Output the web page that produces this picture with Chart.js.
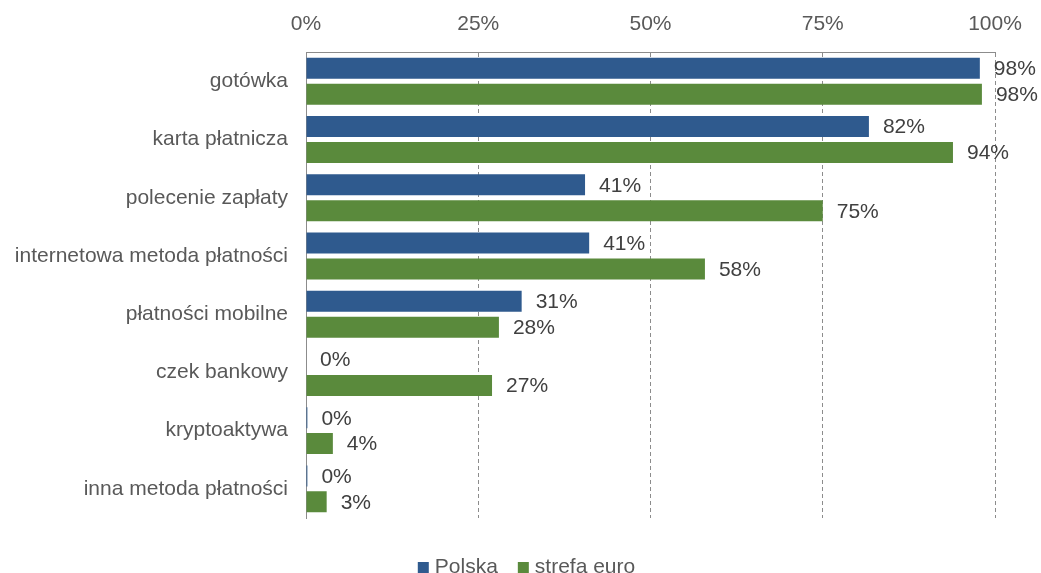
<!DOCTYPE html>
<html>
<head>
<meta charset="utf-8">
<script src="https://cdn.jsdelivr.net/npm/chart.js@4"></script>
<style>
  html, body { margin: 0; padding: 0; background: #fff; overflow: hidden; }
  #wrap { width: 1041px; height: 576px; position: relative; margin-top: -3px; }
</style>
</head>
<body>
<div id="wrap"><canvas id="payChart"></canvas></div>
<script>
// metody płatności - odsetek akceptacji
const categories = [
  "gotówka",
  "karta płatnicza",
  "polecenie zapłaty",
  "internetowa metoda płatności",
  "płatności mobilne",
  "czek bankowy",
  "kryptoaktywa",
  "inna metoda płatności"
];
const polska = [97.8, 81.7, 40.5, 41.1, 31.3, 0, 0.2, 0.2];
const strefaEuro = [98.1, 93.9, 75.0, 57.9, 28.0, 27.0, 3.9, 3.0];
const xTicks = [0, 25, 50, 75, 100];

const txt = "#595959";
const fam = "'Liberation Sans', Arial, sans-serif";

// etykiety wartości na końcu słupków
const valueLabels = {
  id: "valueLabels",
  afterDatasetsDraw(chart) {
    const ctx = chart.ctx;
    ctx.save();
    ctx.font = "21px " + fam;
    ctx.fillStyle = "#404040";
    ctx.textAlign = "left";
    ctx.textBaseline = "middle";
    chart.data.datasets.forEach((ds, i) => {
      chart.getDatasetMeta(i).data.forEach((bar, j) => {
        ctx.fillText(Math.round(ds.data[j]) + "%", bar.x + 14, bar.y + 1);
      });
    });
    ctx.restore();
  }
};

// legenda na dole, ciasniej niz wbudowana
const bottomLegend = {
  id: "bottomLegend",
  afterDraw(chart) {
    const ctx = chart.ctx;
    const box = 11, gap = 6, itemGap = 20;
    ctx.save();
    ctx.font = "21px " + fam;
    ctx.textBaseline = "middle";
    ctx.textAlign = "left";
    const items = chart.data.datasets.map(ds => ({
      label: ds.label, color: ds.backgroundColor, w: ctx.measureText(ds.label).width
    }));
    let total = items.reduce((s, it) => s + box + gap + it.w, 0) + itemGap * (items.length - 1);
    let x = chart.width / 2 + 6 - total / 2;
    const y = 570;
    items.forEach(it => {
      ctx.fillStyle = it.color;
      ctx.fillRect(x, y - 5, box, box);
      ctx.fillStyle = txt;
      ctx.fillText(it.label, x + box + gap, y);
      x += box + gap + it.w + itemGap;
    });
    ctx.restore();
  }
};

new Chart(document.getElementById("payChart"), {
  type: "bar",
  data: {
    labels: categories,
    datasets: [
      { label: "Polska", data: polska, backgroundColor: "#2f5a8e", borderWidth: 0 },
      { label: "strefa euro", data: strefaEuro, backgroundColor: "#5a8a3c", borderWidth: 0 }
    ]
  },
  options: {
    indexAxis: "y",
    responsive: true,
    maintainAspectRatio: false,
    animation: false,
    layout: { padding: { left: 8, right: 46, top: 0, bottom: 55 } },
    datasets: {
      bar: { categoryPercentage: 0.89, barPercentage: 0.81 }
    },
    plugins: {
      tooltip: { enabled: false },
      legend: { display: false }
    },
    scales: {
      x: {
        position: "top",
        min: 0,
        max: 100,
        afterBuildTicks: axis => { axis.ticks = xTicks.map(v => ({ value: v })); },
        ticks: {
          color: txt,
          padding: 15,
          font: { size: 21, family: fam },
          callback: v => v + "%"
        },
        grid: {
          color: "#8c8c8c",
          drawTicks: false
        },
        border: { display: true, color: "#8c8c8c", dash: [4, 3] }
      },
      y: {
        afterFit: axis => { axis.width = 298; },
        ticks: {
          color: txt,
          padding: 10,
          font: { size: 21, family: fam }
        },
        grid: { display: false },
        border: { display: true, color: "#8c8c8c" }
      }
    }
  },
  plugins: [valueLabels, bottomLegend]
});
</script>
</body>
</html>
